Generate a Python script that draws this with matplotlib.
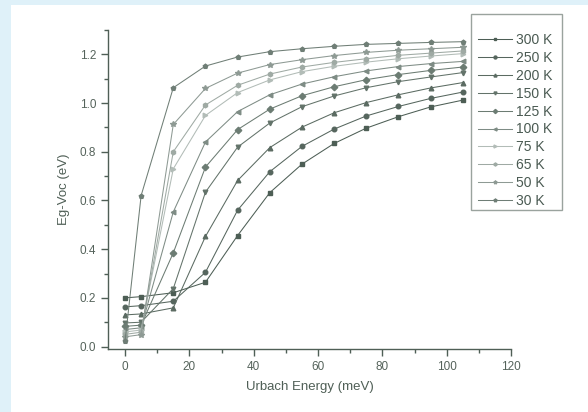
import matplotlib
matplotlib.use("Agg")
import matplotlib.pyplot as plt
from matplotlib.patches import Rectangle
from matplotlib.ticker import MultipleLocator

plt.rcParams['font.family'] = ['Liberation Sans', 'DejaVu Sans']

# ---------------------
# DATA
# ---------------------
urbach = [0, 5, 15, 25, 35, 45, 55, 65, 75, 85, 95, 105]

temps = ['300 K', '250 K', '200 K', '150 K', '125 K', '100 K', '75 K', '65 K', '50 K', '30 K']

eg_300 = [0.200, 0.205, 0.221, 0.264, 0.456, 0.632, 0.749, 0.834, 0.897, 0.944, 0.984, 1.012]
eg_250 = [0.163, 0.168, 0.186, 0.305, 0.560, 0.718, 0.822, 0.893, 0.947, 0.986, 1.019, 1.045]
eg_200 = [0.130, 0.134, 0.159, 0.452, 0.682, 0.817, 0.901, 0.960, 1.002, 1.034, 1.062, 1.084]
eg_150 = [0.097, 0.100, 0.238, 0.634, 0.819, 0.918, 0.985, 1.029, 1.063, 1.088, 1.107, 1.125]
eg_125 = [0.083, 0.088, 0.385, 0.737, 0.891, 0.975, 1.030, 1.067, 1.096, 1.117, 1.134, 1.148]
eg_100 = [0.070, 0.077, 0.553, 0.840, 0.965, 1.034, 1.078, 1.108, 1.132, 1.150, 1.162, 1.171]
eg_75 = [0.060, 0.068, 0.730, 0.949, 1.043, 1.095, 1.129, 1.151, 1.168, 1.182, 1.193, 1.203]
eg_65 = [0.050, 0.059, 0.800, 0.992, 1.073, 1.119, 1.148, 1.167, 1.182, 1.196, 1.205, 1.214]
eg_50 = [0.040, 0.049, 0.912, 1.060, 1.123, 1.158, 1.178, 1.195, 1.208, 1.217, 1.223, 1.229]
eg_30 = [0.022, 0.620, 1.063, 1.152, 1.189, 1.211, 1.223, 1.233, 1.241, 1.245, 1.249, 1.252]

series = [eg_300, eg_250, eg_200, eg_150, eg_125, eg_100, eg_75, eg_65, eg_50, eg_30]
markers = ['s', 'o', '^', 'v', 'D', '<', '>', 'h', '*', 'p']
colors = ['#4d5e55', '#56665e', '#5b6b62', '#63736a', '#6c7c73', '#7e8c85',
          '#b2bcb7', '#9faaa4', '#8e9a94', '#6f7e76']

AXCOL = '#4f5f56'

# ---------------------
# FIGURE
# ---------------------
fig = plt.figure(figsize=(5.88, 4.12), dpi=100, facecolor='#dff1f9')
fig.patches.append(Rectangle((11 / 588, 0), 1, 1 - 5 / 412, transform=fig.transFigure,
                             facecolor='white', edgecolor='none', zorder=-2))

ax = fig.add_axes([108 / 588, 1 - 349 / 412, (511 - 108) / 588, (349 - 30) / 412])
ax.set_facecolor('none')

for vals, lab, mk, c in zip(series, temps, markers, colors):
    ms = 4.2 if mk == '*' else 3.3
    ax.plot(urbach, vals, marker=mk, color=c, lw=0.75, ms=ms, mec=c, label=lab)

ax.set_xlim(-5.3, 120)
ax.set_ylim(-0.01, 1.30)
ax.xaxis.set_major_locator(MultipleLocator(20))
ax.xaxis.set_minor_locator(MultipleLocator(10))
ax.yaxis.set_major_locator(MultipleLocator(0.2))
ax.yaxis.set_minor_locator(MultipleLocator(0.1))
ax.yaxis.set_major_formatter(plt.FuncFormatter(lambda v, p: f'{v:.1f}'))

for s in ['top', 'right']:
    ax.spines[s].set_visible(False)
for s in ['left', 'bottom']:
    ax.spines[s].set_color(AXCOL)
    ax.spines[s].set_linewidth(1.0)

ax.tick_params(which='major', direction='out', length=5, width=1.0, color=AXCOL,
               labelcolor='#55635b', labelsize=8.5)
ax.tick_params(which='minor', direction='out', length=3, width=1.0, color=AXCOL)

ax.set_xlabel('Urbach Energy (meV)', fontsize=9.5, color='#4f5f56', labelpad=6)
ax.set_ylabel('Eg-Voc (eV)', fontsize=9.5, color='#4f5f56', labelpad=7)

# legend box drawn separately (the Origin box has extra space on top)
fig.patches.append(Rectangle((471 / 588, 1 - 210 / 412), 91 / 588, 196 / 412,
                             transform=fig.transFigure, facecolor='white',
                             edgecolor='#9aa39e', lw=1.0, zorder=-1))
leg = ax.legend(loc='upper left', bbox_to_anchor=(478 / 588, 1 - 33 / 412),
                bbox_transform=fig.transFigure, frameon=False, fontsize=10,
                handlelength=2.45, handletextpad=0.3, labelspacing=0.28,
                borderpad=0, borderaxespad=0, markerscale=0.65)
for t in leg.get_texts():
    t.set_color('#4a5a52')

fig.savefig('out.png', dpi=100)
